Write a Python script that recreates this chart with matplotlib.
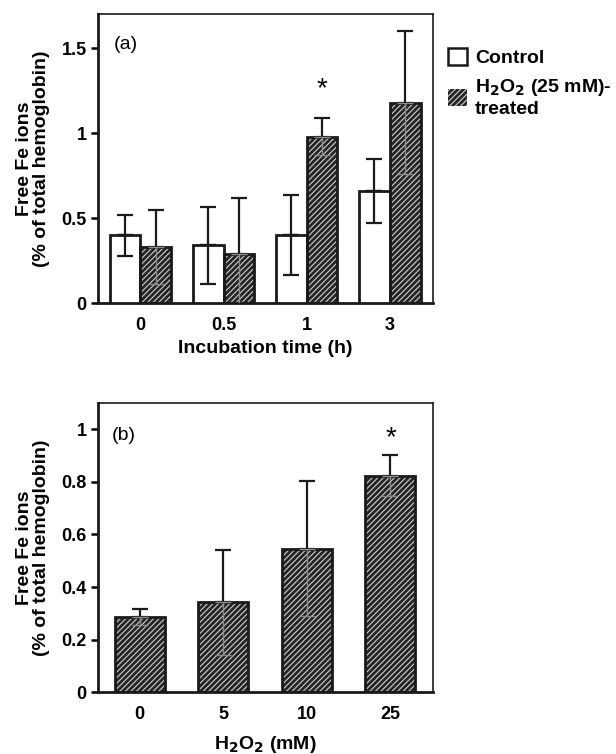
import matplotlib
matplotlib.use("Agg")
import matplotlib.pyplot as plt
import numpy as np
from matplotlib.patches import Patch

plt.rcParams['font.family'] = ['Liberation Sans', 'DejaVu Sans']
plt.rcParams['hatch.linewidth'] = 0.7

# Panel (a)
times = ["0", "0.5", "1", "3"]
control_mean = [0.40, 0.34, 0.40, 0.66]
control_err = [0.12, 0.225, 0.235, 0.19]
treated_mean = [0.33, 0.29, 0.98, 1.18]
treated_err = [0.22, 0.33, 0.11, 0.42]

# Panel (b)
doses = ["0", "5", "10", "25"]
dose_mean = [0.287, 0.342, 0.546, 0.822]
dose_err = [0.03, 0.20, 0.255, 0.078]

DARK = "#262626"
HATCH = "#e2e2e2"
INK = "#1a1a1a"

fig = plt.figure(figsize=(6.16, 7.54), dpi=100)
axa = fig.add_axes([0.159, 0.598, 0.544, 0.383])
axb = fig.add_axes([0.159, 0.0818, 0.544, 0.384])

def hatched_bars(ax, x, h, w):
    ax.bar(x, h, w, color=DARK, edgecolor=HATCH, hatch='//////', linewidth=0, zorder=2)
    ax.bar(x, h, w, fill=False, edgecolor=INK, linewidth=2.0, zorder=3)

def err_bars(ax, x, m, e, lower_color):
    x = np.asarray(x); m = np.asarray(m); e = np.asarray(e)
    ax.errorbar(x, m, yerr=[np.zeros_like(e), e], fmt='none', ecolor=INK,
                elinewidth=1.6, capsize=6, capthick=1.6, zorder=4)
    lw = 1.6 if lower_color == INK else 1.0
    ax.errorbar(x, m, yerr=[e, np.zeros_like(e)], fmt='none', ecolor=lower_color,
                elinewidth=lw, capsize=6, capthick=lw, zorder=4)

w = 0.37
xa = np.arange(len(times))
axa.bar(xa - w/2, control_mean, w, color='white', edgecolor=INK, linewidth=2.0, zorder=3)
hatched_bars(axa, xa + w/2, treated_mean, w)
err_bars(axa, xa - w/2, control_mean, control_err, INK)
err_bars(axa, xa + w/2, treated_mean, treated_err, '#8c8c8c')
axa.text(xa[2] + w/2, 1.18, '*', ha='center', va='bottom', fontsize=20)
axa.text(-0.32, 1.52, '(a)', ha='left', va='center', fontsize=14)
axa.set_ylim(0, 1.7)
axa.set_xlim(-0.51, 3.52)
axa.set_yticks([0, 0.5, 1, 1.5])
axa.set_yticklabels(['0', '0.5', '1', '1.5'])
axa.set_xticks(xa)
axa.set_xticklabels(times)
axa.set_xlabel('Incubation time (h)', fontsize=14, fontweight='bold', labelpad=4)
axa.set_ylabel('Free Fe ions\n(% of total hemoglobin)', fontsize=14, fontweight='bold',
               linespacing=1.0, labelpad=8)

# legend
h1 = Patch(facecolor='white', edgecolor=INK, linewidth=1.8)
h2 = Patch(facecolor=DARK, edgecolor=HATCH, hatch='//////', linewidth=0)
leg = axa.legend([h1, h2], ['Control', 'H$_\\mathbf{2}$O$_\\mathbf{2}$ (25 mM)-\ntreated'],
                 loc='upper left', bbox_to_anchor=(1.02, 0.91), frameon=False,
                 prop={'size': 14, 'weight': 'bold'}, handlelength=1.0, handleheight=1.0,
                 handletextpad=0.4, labelspacing=0.5, borderaxespad=0)

xb = np.arange(len(doses))
wb = 0.6
hatched_bars(axb, xb, dose_mean, wb)
err_bars(axb, xb, dose_mean, dose_err, '#8c8c8c')
axb.text(xb[3], 0.915, '*', ha='center', va='bottom', fontsize=20)
axb.text(-0.33, 0.977, '(b)', ha='left', va='center', fontsize=14)
axb.set_ylim(0, 1.1)
axb.set_xlim(-0.5, 3.51)
axb.set_yticks([0, 0.2, 0.4, 0.6, 0.8, 1.0])
axb.set_yticklabels(['0', '0.2', '0.4', '0.6', '0.8', '1'])
axb.set_xticks(xb)
axb.set_xticklabels(doses)
axb.set_xlabel('H$_\\mathbf{2}$O$_\\mathbf{2}$ (mM)', fontsize=14, fontweight='bold', labelpad=8)
axb.set_ylabel('Free Fe ions\n(% of total hemoglobin)', fontsize=14, fontweight='bold',
               linespacing=1.0, labelpad=8)

for ax in (axa, axb):
    for s in ax.spines.values():
        s.set_linewidth(1.2)
        s.set_color(INK)
    ax.spines['left'].set_linewidth(2.0)
    ax.spines['bottom'].set_linewidth(2.0)
    ax.tick_params(axis='y', direction='out', length=5, width=1.8, labelsize=13, pad=3)
    ax.tick_params(axis='x', length=0, labelsize=13, pad=10)
    for lab in ax.get_xticklabels() + ax.get_yticklabels():
        lab.set_fontweight('bold')

fig.savefig('out.png', dpi=100)
